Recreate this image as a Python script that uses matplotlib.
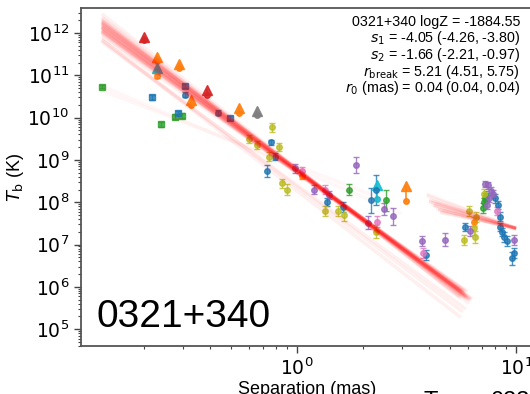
import matplotlib
matplotlib.use("Agg")
import matplotlib.pyplot as plt
import numpy as np

plt.rcParams["font.family"] = ["Liberation Sans", "DejaVu Sans"]
plt.rcParams["mathtext.fontset"] = "dejavusans"

SOURCE = "0321+340"
STATS = [
    "0321+340 logZ = -1884.55",
    r"$s_1$ = -4.05 (-4.26, -3.80)",
    r"$s_2$ = -1.66 (-2.21, -0.97)",
    r"$r_{\rm break}$ = 5.21 (4.51, 5.75)",
    r"$r_0$ (mas) = 0.04 (0.04, 0.04)",
]

# measured points: separation (mas), Tb (K), error (dex)
BLUE_SEP = [0.761, 0.73, 0.308, 0.437, 0.79, 1.37, 1.62, 2.18, 2.29, 3.87, 5.84,
            8.0, 8.3, 8.45, 8.45, 8.6, 8.8, 9.07, 9.8, 9.55]
BLUE_TB = [2.6e9, 5.5e8, 3.5e10, 1.3e10, 1.2e9, 1.0e8, 7.8e7, 1.1e8, 1.95e8, 5.6e6, 2.6e7,
           1.23e8, 8.5e7, 4.6e7, 2.6e7, 2.0e7, 1.5e7, 1.2e7, 6.4e6, 4.7e6]
BLUE_ERR = [0.06, 0.15, 0.06, 0.06, 0.08, 0.10, 0.12, 0.30, 0.35, 0.12, 0.10,
            0.10, 0.10, 0.10, 0.10, 0.10, 0.12, 0.12, 0.12, 0.15]

ORANGE_SEP = [0.23, 1.05, 6.43]
ORANGE_TB = [9.6e10, 4.2e8, 3.5e7]
ORANGE_ERR = [0.05, 0.08, 0.10]

GREEN_SEP = [1.73, 2.55, 7.04, 7.21, 7.30, 7.15]
GREEN_TB = [2.0e8, 1.1e8, 7.2e7, 1.23e8, 1.4e8, 1.0e8]
GREEN_ERR = [0.12, 0.25, 0.12, 0.12, 0.12, 0.10]

OLIVE_SEP = [0.605, 0.658, 0.771, 0.828, 0.74, 0.857, 0.90, 1.34, 1.54, 1.64, 2.29,
             5.79, 6.06, 6.55, 6.45, 6.50, 7.10]
OLIVE_TB = [3.1e9, 2.25e9, 5.9e9, 2.0e9, 1.2e9, 2.8e8, 2.0e8, 6.2e7, 6.3e7, 5.0e7, 2.0e7,
            1.3e7, 6.3e7, 4.5e7, 2.4e7, 1.5e7, 1.6e8]
OLIVE_ERR = [0.10, 0.10, 0.10, 0.10, 0.10, 0.10, 0.12, 0.12, 0.12, 0.15, 0.15,
             0.12, 0.12, 0.12, 0.15, 0.15, 0.10]

PURPLE_SEP = [0.979, 1.19, 1.40, 1.86, 2.10, 2.48, 2.75, 3.73, 4.71, 6.17, 7.20, 7.40,
              7.65, 7.55, 7.80, 7.38, 9.73]
PURPLE_TB = [6.3e8, 2.0e8, 1.5e8, 7.6e8, 3.3e7, 6.9e7, 4.7e7, 1.2e7, 1.3e7, 2.1e7, 2.7e8,
             2.5e8, 1.86e8, 1.29e8, 1.55e8, 8.5e7, 1.3e7]
PURPLE_ERR = [0.10, 0.10, 0.10, 0.20, 0.15, 0.15, 0.20, 0.12, 0.15, 0.12, 0.08, 0.08,
              0.10, 0.10, 0.10, 0.10, 0.12]

PINK_SEP = [1.05, 1.34, 2.31, 3.77, 8.2]
PINK_TB = [5.5e8, 2.0e8, 3.5e7, 6.2e6, 6.2e7]
PINK_ERR = [0.10, 0.10, 0.12, 0.12, 0.10]

# early epochs drawn as squares
SQ_SEP = [0.128, 0.278, 0.298, 0.238, 0.218, 0.308, 0.287, 0.491]
SQ_TB = [5.4e10, 1.05e10, 1.1e10, 7.0e9, 3.0e10, 5.7e10, 1.3e10, 1.0e10]
SQ_ERR = [0.04, 0.06, 0.06, 0.06, 0.05, 0.05, 0.05, 0.05]
SQ_COLOR = ["tab:green", "tab:green", "tab:green", "tab:green",
            "tab:blue", "tab:blue", "tab:blue", "tab:blue"]

# lower limits: separation, Tb, arrow length (dex)
LIM_SEP = [0.199, 0.23, 0.289, 0.23, 0.328, 0.388, 0.545, 0.655, 2.31, 3.15]
LIM_TB = [6.8e11, 2.2e11, 1.5e11, 1.26e11, 2.0e10, 3.4e10, 1.3e10, 1.15e10, 1.2e8, 1.07e8]
LIM_LEN = [0.08, 0.08, 0.09, 0.07, 0.12, 0.12, 0.11, 0.10, 0.32, 0.36]
LIM_COLOR = ["tab:red", "tab:orange", "tab:orange", "tab:cyan", "tab:orange",
             "tab:red", "tab:orange", "tab:gray", "tab:cyan", "tab:orange"]

# posterior samples, inner power law (slope, log Tb at 1.2 mas, outer end)
X_MIN = 0.128
S1 = [-3.80, -3.85, -3.75, -3.90, -3.70, -3.95, -3.82, -3.78, -3.88, -3.72, -4.00,
      -3.65, -3.84, -3.79, -3.92, -3.76, -4.10, -3.60, -3.86, -3.81, -3.74, -3.98,
      -3.83, -3.77, -3.94, -3.69, -4.05, -3.87, -3.90, -3.80, -4.00, -2.20, -2.00]
LOGT1 = [8.44, 8.46, 8.42, 8.45, 8.43, 8.47, 8.41, 8.44, 8.48, 8.40, 8.45,
         8.42, 8.43, 8.46, 8.44, 8.39, 8.47, 8.41, 8.45, 8.43, 8.44, 8.42,
         8.46, 8.40, 8.45, 8.43, 8.44, 8.47, 8.05, 8.10, 7.95, 8.61, 8.70]
END1 = [5.8, 6.0, 5.6, 6.2, 5.7, 5.9, 6.1, 5.5, 5.8, 6.3, 5.6,
        5.9, 6.0, 5.7, 5.8, 6.2, 5.5, 6.0, 5.9, 5.6, 5.8, 6.1,
        5.7, 5.9, 6.0, 5.8, 5.6, 6.2, 5.7, 5.9, 5.6, 3.0, 2.5]

# outer power law (slope, log Tb at 9 mas, inner start)
X_MAX = 10.0
S2 = [-1.40, -1.55, -1.25, -1.70, -1.10, -1.85, -1.35, -1.60, -1.20, -1.50, -2.00,
      -1.30, -1.45, -1.65, -1.05, -1.75]
LOGT2 = [7.45, 7.47, 7.43, 7.46, 7.44, 7.48, 7.42, 7.45, 7.46, 7.44, 7.47,
         7.43, 7.45, 7.46, 7.44, 7.45]
START2 = [4.2, 4.0, 4.4, 4.1, 4.5, 3.9, 4.3, 4.0, 4.6, 4.2, 3.9,
          4.4, 4.1, 4.3, 4.5, 4.0]


def draw_points(ax, sep, tb, err, color, marker="o"):
    sep = np.asarray(sep)
    tb = np.asarray(tb)
    err = np.asarray(err)
    yerr = [tb - tb * 10 ** (-err), tb * 10 ** err - tb]
    ax.errorbar(sep, tb, yerr=yerr, fmt=marker, color=color, ms=4,
                elinewidth=1.0, capsize=2.2, capthick=1.0, alpha=0.8,
                zorder=2)


fig = plt.figure(figsize=(5.3, 3.94), dpi=100)
ax = fig.add_axes([0.1528, 0.1218, 0.8538, 0.8579])

draw_points(ax, BLUE_SEP, BLUE_TB, BLUE_ERR, "tab:blue")
draw_points(ax, ORANGE_SEP, ORANGE_TB, ORANGE_ERR, "tab:orange")
draw_points(ax, GREEN_SEP, GREEN_TB, GREEN_ERR, "tab:green")
draw_points(ax, OLIVE_SEP, OLIVE_TB, OLIVE_ERR, "tab:olive")
draw_points(ax, PURPLE_SEP, PURPLE_TB, PURPLE_ERR, "tab:purple")
draw_points(ax, PINK_SEP, PINK_TB, PINK_ERR, "tab:pink")
for s, t, e, c in zip(SQ_SEP, SQ_TB, SQ_ERR, SQ_COLOR):
    draw_points(ax, [s], [t], [e], c, marker="s")

for s, t, l, c in zip(LIM_SEP, LIM_TB, LIM_LEN, LIM_COLOR):
    top = t * 10 ** l
    ax.plot([s, s], [t, top], color=c, lw=1.2, alpha=0.9, zorder=2)
    ax.plot(s, t, "o", color=c, ms=4, alpha=0.9, zorder=2)
    ax.plot(s, top, "^", color=c, ms=7, alpha=0.9, zorder=2)

for s, lt, end in zip(S1, LOGT1, END1):
    r = np.array([X_MIN, end])
    faint = 0.03 if s > -3.0 else 0.06
    ax.plot(r, 10 ** (lt + s * np.log10(r / 1.2)), color="red", lw=2.6,
            alpha=faint, zorder=3, solid_capstyle="butt")

for s, lt, start in zip(S2, LOGT2, START2):
    r = np.array([start, X_MAX])
    ax.plot(r, 10 ** (lt + s * np.log10(r / 9.0)), color="red", lw=2.2,
            alpha=0.06, zorder=3, solid_capstyle="butt")

ax.set_xscale("log")
ax.set_yscale("log")
ax.set_xlim(0.103, 12)
ax.set_ylim(4e4, 3.9e12)
ax.set_xlabel("Separation (mas)", fontsize=13, labelpad=1)
ax.set_ylabel(r"$T_{\rm b}$ (K)", fontsize=13, labelpad=1)
ax.tick_params(which="both", labelsize=13.5, labelfontfamily="DejaVu Sans",
               color="#444444")
ax.tick_params(which="major", length=5, width=1.0)
ax.tick_params(which="minor", length=2.5, width=0.8)
for side in ax.spines.values():
    side.set_color("#555555")
    side.set_linewidth(1.3)

for i, line in enumerate(STATS):
    fig.text(520 / 530, 1 - (21.7 + 16.65 * i) / 394, line, ha="right",
             va="center", fontsize=10.3)

fig.text(97 / 530, (394 - 327) / 394, SOURCE, fontsize=28, ha="left",
         va="baseline")

# neighbouring panel, cut off at the bottom edge
fig.text(423 / 530, 3.5 / 394, "T", fontsize=17, ha="left", va="top")
fig.text(490 / 530, 3.5 / 394, "0234", fontsize=17, ha="left", va="top")

fig.savefig("out.png", dpi=100)
